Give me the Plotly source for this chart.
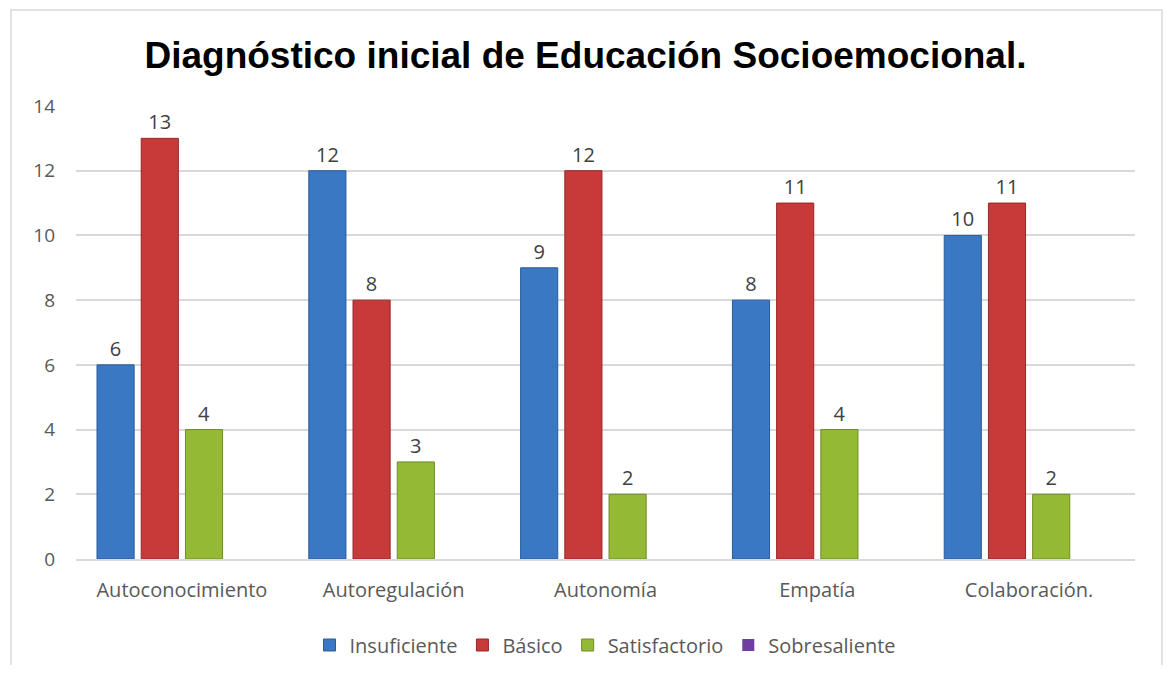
import plotly.graph_objects as go

categories = ["Autoconocimiento", "Autoregulación", "Autonomía", "Empatía", "Colaboración."]
series_names = ["Insuficiente", "Básico", "Satisfactorio", "Sobresaliente"]
insuficiente = [6, 12, 9, 8, 10]
basico = [13, 8, 12, 11, 11]
satisfactorio = [4, 3, 2, 4, 2]
sobresaliente = [0, 0, 0, 0, 0]
y_ticks = [0, 2, 4, 6, 8, 10, 12, 14]

colors = ["#3A78C4", "#C8393A", "#94BA35", "#6E3FA0"]
edge = ["#2B5C98", "#962828", "#6E8C26", "#4E2C75"]
values = [insuficiente, basico, satisfactorio, sobresaliente]

# page body has an 8px margin; figure coordinates are screen - 8
W, H = 1155, 657
L, R, T, B = 68, 28, 98, 106
FONT = "Open Sans, Noto Sans, sans-serif"

fig = go.Figure()
for name, vals, c, e in zip(series_names, values, colors, edge):
    show_text = any(v > 0 for v in vals)
    fig.add_trace(go.Bar(
        name=name, x=categories, y=vals,
        marker=dict(color=c, line=dict(color=e, width=1 if show_text else 0)),
        text=[str(v) for v in vals] if show_text else None,
        textposition="outside",
        textfont=dict(family=FONT, size=20, color="#404040"),
        cliponaxis=False,
    ))

pw = W - L - R
ph = H - T - B
x0 = (3 - L) / pw
x1 = (W - 1 - L) / pw
y1 = (H - B - 2) / ph
y0 = (H - B - 720) / ph

fig.update_layout(
    width=W, height=H,
    margin=dict(l=L, r=R, t=T, b=B, autoexpand=False),
    paper_bgcolor="white", plot_bgcolor="white",
    barmode="group", bargap=0.165, bargroupgap=0.16,
    title=dict(text="<b>Diagnóstico inicial de Educación Socioemocional.</b>",
               x=0.5, xref="container", xanchor="center", y=1 - 47 / H, yanchor="middle",
               font=dict(family="Liberation Sans, Arial, sans-serif", size=37, color="#000000")),
    font=dict(family=FONT, size=19, color="#595959"),
    yaxis=dict(range=[0, 14], tickvals=y_ticks, showgrid=True, gridcolor="#D9D9D9",
               gridwidth=1.5, zeroline=False, ticklabelstandoff=20, automargin=False,
               tickfont=dict(family=FONT, size=19, color="#595959")),
    xaxis=dict(showline=True, linecolor="#D9D9D9", linewidth=1.5, automargin=False,
               ticklabelstandoff=12, tickfont=dict(family=FONT, size=20, color="#595959")),
    legend=dict(orientation="h", x=0.5, xanchor="center", y=-(637 - (H - B)) / ph,
                yanchor="middle", font=dict(family=FONT, size=20, color="#595959"),
                itemwidth=30, traceorder="normal"),
    shapes=[dict(type="rect", xref="paper", yref="paper", x0=x0, x1=x1, y0=y0, y1=y1,
                 line=dict(color="#D9D9D9", width=1.5), fillcolor="rgba(0,0,0,0)", layer="below")],
    showlegend=True,
)

fig.write_html("out.html")
